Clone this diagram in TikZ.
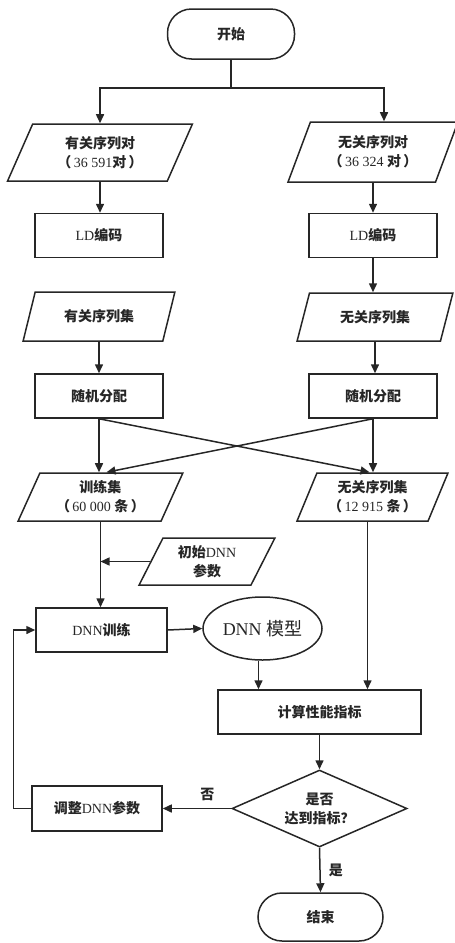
\documentclass[tikz,border=0pt]{standalone}
\usepackage{fontspec}
\setmainfont{Liberation Serif}
\newfontfamily\cjk{Noto Sans CJK SC}
\newcommand\zh[1]{{\cjk\bfseries #1}}
\usetikzlibrary{shapes.geometric,arrows.meta,calc}
\tikzset{
  base/.style={draw=black!85, line width=1.5pt, text=black!85,
    font=\fontsize{14}{19}\selectfont, align=center, inner sep=0pt},
  term/.style={base, rectangle, rounded corners=24pt, minimum width=127pt, minimum height=50pt},
  proc/.style={base, rectangle, minimum width=128pt, minimum height=44pt},
  io/.style={base, trapezium, trapezium left angle=64, trapezium right angle=116,
    trapezium stretches=true},
  decide/.style={base, diamond, minimum width=175pt, minimum height=77pt, aspect=2.27},
  oval/.style={base, ellipse, minimum width=119pt, minimum height=63pt},
  ln/.style={draw=black!85, line width=1.5pt},
  arr/.style={ln, -{Triangle[length=9pt,width=8pt]}},
  lbl/.style={text=black!85, font=\fontsize{14}{17}\selectfont, inner sep=0pt},
}
\begin{document}
\begin{tikzpicture}[x=1pt,y=-1pt]
\useasboundingbox (0,0) rectangle (455,943);

\node[term] (start) at (231,34) {\zh{开始}};
\node[io, minimum width=185pt, minimum height=57pt] (p1) at (100,152.5)
  {\zh{有关序列对}\\\zh{（}\,36 591\zh{对}\,\zh{）}};
\node[io, minimum width=170pt, minimum height=60pt] (p2) at (373,152)
  {\zh{无关序列对}\\\zh{（}\,36 324 \zh{对}\,\zh{）}};
\node[proc] (ld1) at (99,235.5) {LD\zh{编码}};
\node[proc] (ld2) at (373,235.5) {LD\zh{编码}};
\node[io, minimum width=152pt, minimum height=49pt] (s1) at (99,316.5) {\zh{有关序列集}};
\node[io, minimum width=156pt, minimum height=48pt] (s2) at (375,317) {\zh{无关序列集}};
\node[proc] (r1) at (99,396) {\zh{随机分配}};
\node[proc] (r2) at (373,396) {\zh{随机分配}};
\node[io, minimum width=165pt, minimum height=48pt] (t1) at (100.5,497)
  {\zh{训练集}\\\zh{（}\,60 000 \zh{条}\,\zh{）}};
\node[io, minimum width=151pt, minimum height=48pt] (t2) at (372.5,497)
  {\zh{无关序列集}\\\zh{（}\,12 915 \zh{条}\,\zh{）}};
\node[io, minimum width=136pt, minimum height=47pt] (init) at (207,561.5)
  {\zh{初始}DNN\\\zh{参数}};
\node[proc, minimum width=131pt] (train) at (101.5,630) {DNN\zh{训练}};
\node[oval] (model) at (262.5,628.5) {\fontsize{18}{20}\selectfont DNN {\cjk 模型}};
\node[proc, minimum width=203pt] (calc) at (319.5,712) {\zh{计算性能指标}};
\node[decide] (dec) at (319.5,808.5) {\zh{是否}\\\zh{达到指标？}};
\node[proc, minimum width=130pt, minimum height=45pt] (adj) at (97,808.5) {\zh{调整}DNN\zh{参数}};
\node[term, minimum width=125pt, minimum height=48pt] (end) at (320.5,917) {\zh{结束}};

% connectors
\draw[ln] (start.south) -- (231,88) coordinate (br);
\draw[arr] (br) -| (p1.north);
\draw[arr] (br) -| ($(p2.north)+(11,0)$);
\draw[arr] (p1.south) -- (p1.south |- ld1.north);
\draw[arr] (p2.south) -- (p2.south |- ld2.north);
\draw[arr] (ld2.south) -- (ld2.south |- s2.north);
\draw[arr] (s1.south) -- (s1.south |- r1.north);
\draw[arr] (s2.south) -- (s2.south |- r2.north);
\draw[arr] (r1.south) -- (r1.south |- t1.north);
\draw[arr] (r2.south) -- (r2.south |- t2.north);
\draw[arr] (r1.south) -- ($(t2.north)+(-3,0)$);
\draw[arr] (r2.south) -- ($(t1.north)+(6,0)$);
\draw[arr] (t1.south) -- (t1.south |- train.north);
\draw[arr] (init.west) -- (init.west -| t1.south);
\draw[arr] (train.east) -- (model.west);
\draw[arr] ($(model.south)+(-4,0)$) -- ($(model.south |- calc.north)+(-4,0)$);
\draw[arr] ($(t2.south)+(-5,0)$) -- ($(t2.south |- calc.north)+(-5,0)$);
\draw[arr] (calc.south) -- (dec.north);
\draw[arr] (dec.west) -- (adj.east) node[lbl, pos=0.35, above=7pt] {\zh{否}};
\draw[arr] (adj.west) -- ++(-18,0) |- (train.west);
\draw[arr] (dec.south) -- (end.north) node[lbl, midway, right=8pt] {\zh{是}};
\end{tikzpicture}
\end{document}
